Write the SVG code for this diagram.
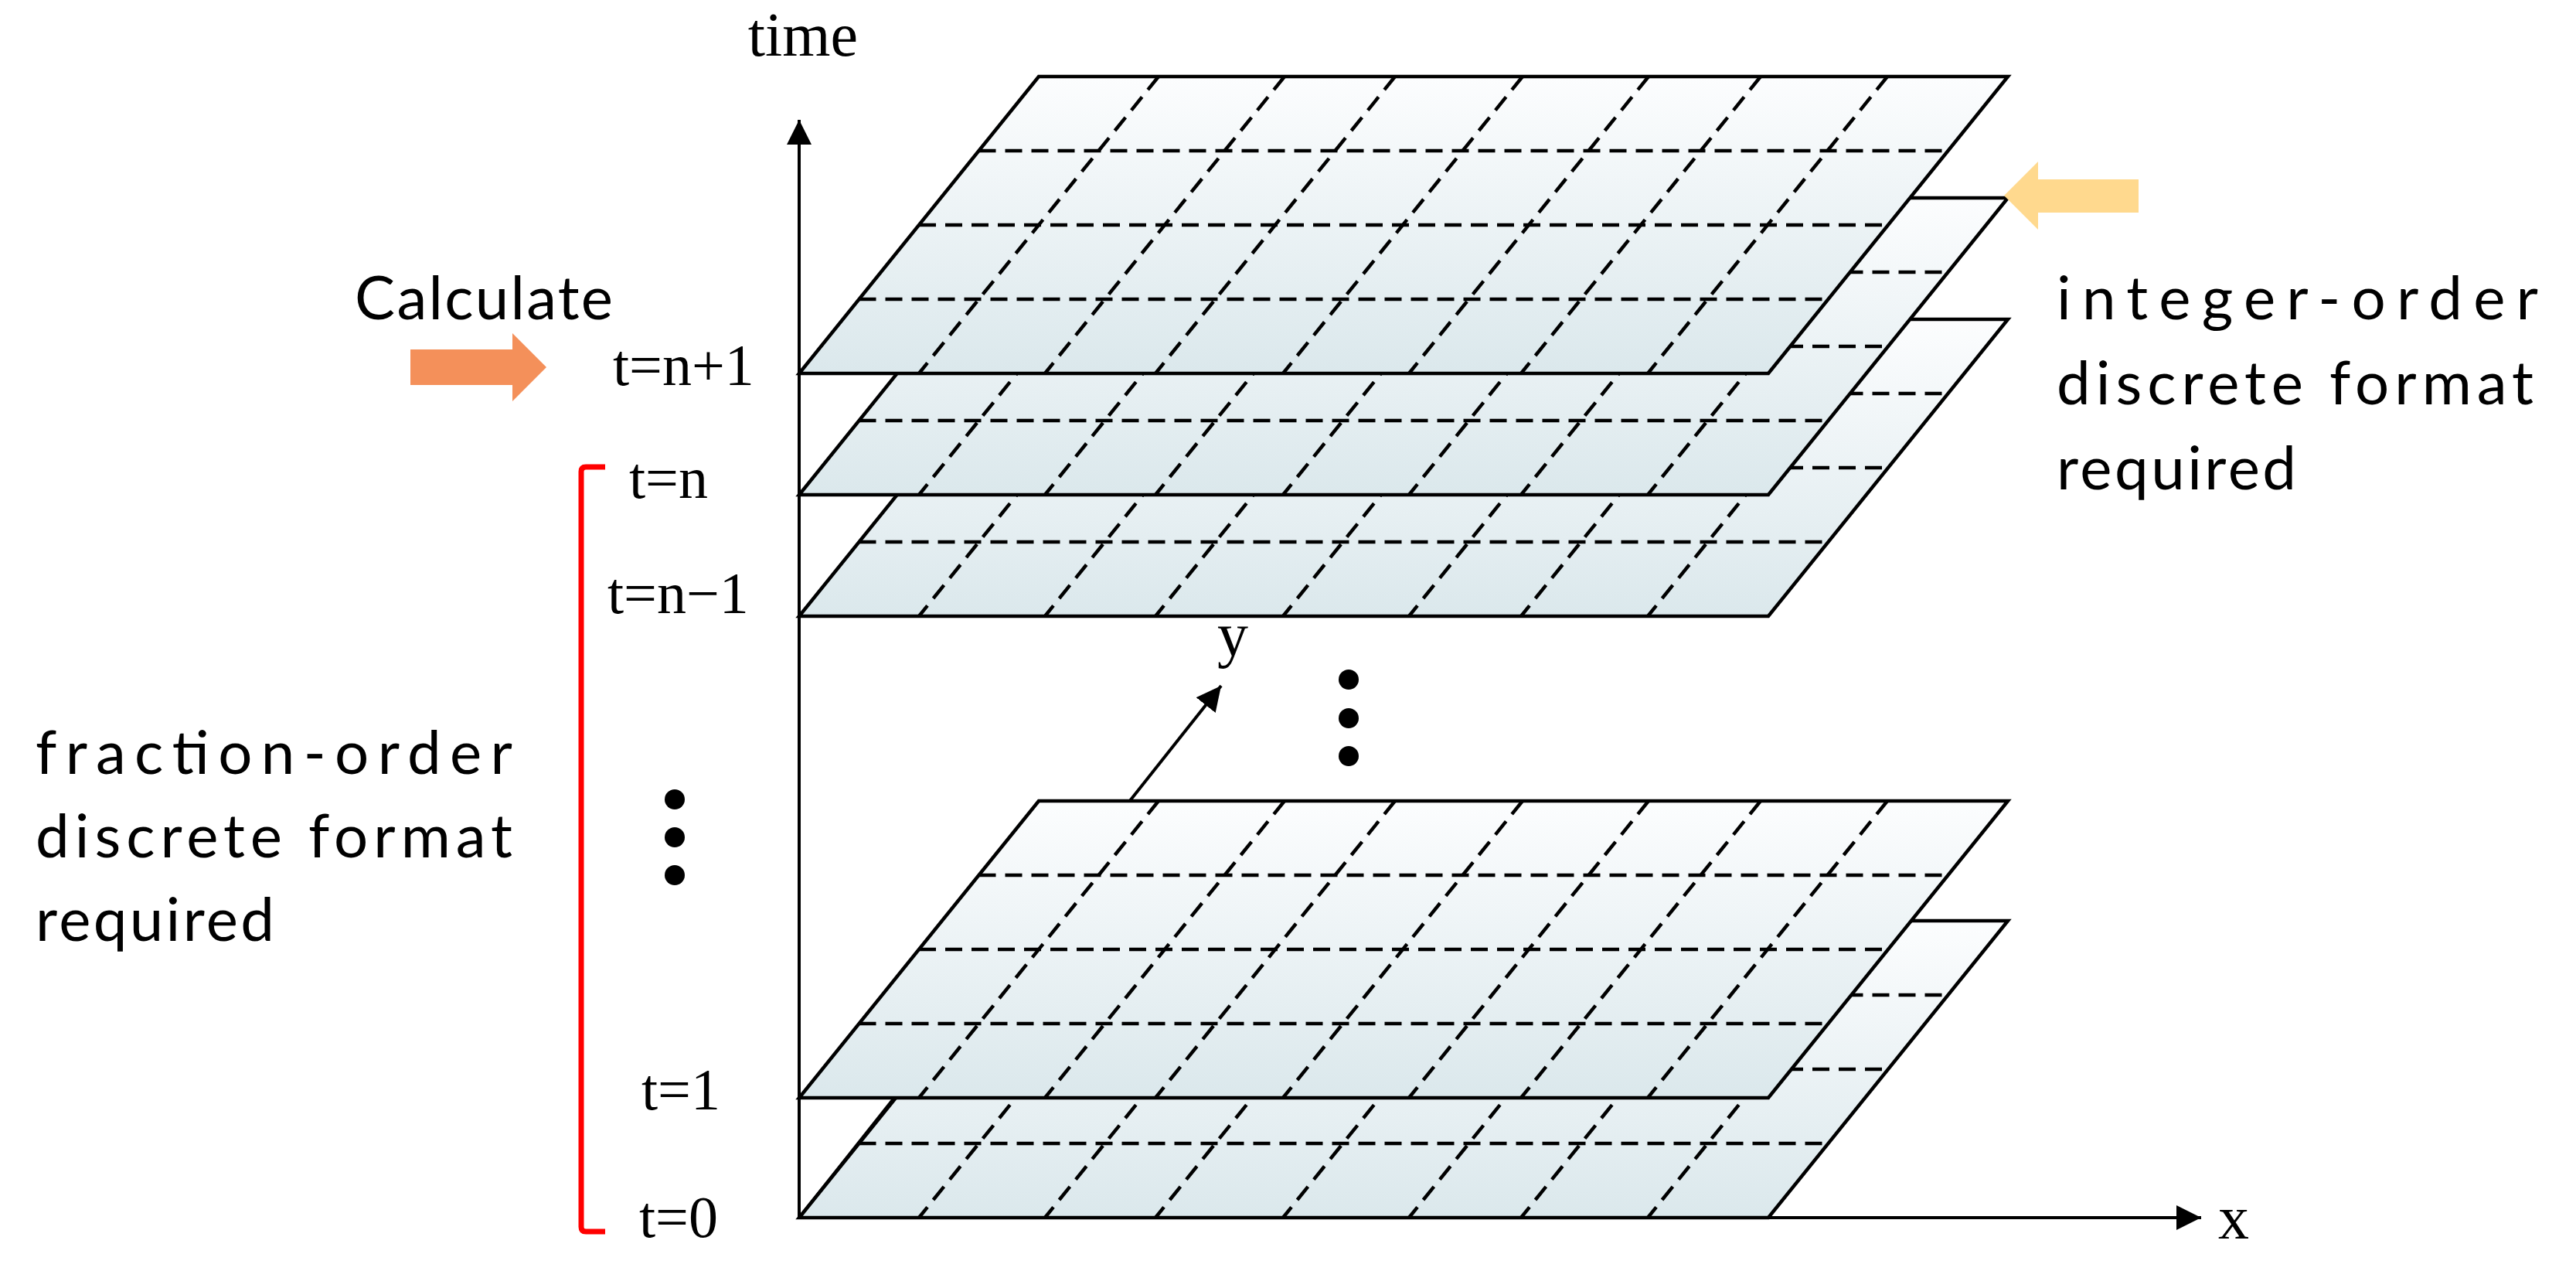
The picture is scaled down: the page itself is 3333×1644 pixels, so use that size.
<svg xmlns="http://www.w3.org/2000/svg" xmlns:xlink="http://www.w3.org/1999/xlink" width="3333" height="1644" viewBox="0 0 3333 1644">
<style>
.bg{fill:#ffffff}
.pfill{fill:url(#pgrad);stroke:none}
.pedge{fill:none;stroke:#000;stroke-width:4.5;stroke-linejoin:miter}
.dash{fill:none;stroke:#000;stroke-width:4.5;stroke-dasharray:22 12}
.axis{fill:none;stroke:#000;stroke-width:4}
.tlab{font-family:"Liberation Serif","Times New Roman",serif;font-size:76px;fill:#000}
.axlab{font-family:"Liberation Serif","Times New Roman",serif;font-size:80px;fill:#000}
.note{font-family:Lato,"Open Sans","Liberation Sans",sans-serif;font-size:78px;fill:#000}
.dot{fill:#000}
</style>
<defs>
<linearGradient id="pgrad" x1="0" y1="0" x2="0" y2="1">
<stop offset="0" stop-color="#fcfdfe"/>
<stop offset="1" stop-color="#dbe8ec"/>
</linearGradient>
<marker id="ah" markerUnits="userSpaceOnUse" markerWidth="32" markerHeight="32" viewBox="0 0 30 30" refX="30" refY="15" orient="auto">
<path d="M0,0 L30,15 L0,30 Z" fill="#000"/>
</marker>
<g id="plane">
<polygon class="pfill" points="310,0 1564,0 1254,384 0,384"/>
<g class="dash">
<line x1="232.5" y1="96" x2="1486.5" y2="96"/>
<line x1="155" y1="192" x2="1409" y2="192"/>
<line x1="77.5" y1="288" x2="1331.5" y2="288"/>
<line x1="465" y1="0" x2="155" y2="384"/>
<line x1="628" y1="0" x2="318" y2="384"/>
<line x1="771" y1="0" x2="461" y2="384"/>
<line x1="936" y1="0" x2="626" y2="384"/>
<line x1="1099" y1="0" x2="789" y2="384"/>
<line x1="1244" y1="0" x2="934" y2="384"/>
<line x1="1408" y1="0" x2="1098" y2="384"/>
</g>
<polygon class="pedge" points="310,0 1564,0 1254,384 0,384"/>
</g>
</defs>
<rect class="bg" x="0" y="0" width="3333" height="1644"/>

<g id="plane-t0" transform="translate(1034,1191)"><use xlink:href="#plane" href="#plane"/></g>

<g id="connectors">
<line class="axis" x1="1034" y1="1577" x2="1034" y2="155" marker-end="url(#ah)"/>
<line class="axis" x1="1032" y1="1575" x2="2848" y2="1575" marker-end="url(#ah)"/>
<line class="axis" x1="1034" y1="1575" x2="1580" y2="887" stroke-width="5.5" marker-end="url(#ah)"/>
</g>

<g id="plane-t1" transform="translate(1034,1036)"><use xlink:href="#plane" href="#plane"/></g>
<g id="plane-tn-1" transform="translate(1034,413)"><use xlink:href="#plane" href="#plane"/></g>
<g id="plane-tn" transform="translate(1034,256)"><use xlink:href="#plane" href="#plane"/></g>
<g id="plane-tn+1" transform="translate(1034,99)"><use xlink:href="#plane" href="#plane"/></g>

<g id="label-time"><text class="axlab" x="1110" y="72" text-anchor="end" font-size="86">time</text></g>
<g id="label-x"><text class="axlab" x="2870" y="1602">x</text></g>
<g id="label-y"><text class="axlab" x="1575" y="848">y</text></g>

<g id="label-tn1"><text class="tlab" x="793" y="498">t=n+1</text></g>
<g id="label-tn"><text class="tlab" x="814" y="644">t=n</text></g>
<g id="label-tnm1"><text class="tlab" x="786" y="793">t=n−1</text></g>
<g id="label-t1"><text class="tlab" x="830" y="1435">t=1</text></g>
<g id="label-t0"><text class="tlab" x="827" y="1600">t=0</text></g>

<g id="dots-left">
<circle class="dot" cx="873" cy="1034" r="13"/>
<circle class="dot" cx="873" cy="1083" r="13"/>
<circle class="dot" cx="873" cy="1132" r="13"/>
</g>
<g id="dots-mid">
<circle class="dot" cx="1745" cy="879" r="13"/>
<circle class="dot" cx="1745" cy="929" r="13"/>
<circle class="dot" cx="1745" cy="978" r="13"/>
</g>

<g id="calculate">
<polygon points="531,452 663,452 663,431 707,475 663,519 663,498 531,498" fill="#f4905a"/>
<text class="note" x="459" y="413" font-size="76" textLength="334" lengthAdjust="spacing">Calculate</text>
</g>

<g id="integer-order">
<polygon points="2767,232 2637,232 2637,209 2593,253 2637,297 2637,275 2767,275" fill="#ffd98e"/>
<text class="note" x="2661" y="413" textLength="623" lengthAdjust="spacing">integer-order</text>
<text class="note" x="2661" y="523" textLength="617" lengthAdjust="spacing">discrete format</text>
<text class="note" x="2661" y="633" textLength="310" lengthAdjust="spacing">required</text>
</g>

<g id="fraction-order">
<path d="M783,604 L758,604 Q752,604 752,610 L752,1587 Q752,1593 758,1593 L783,1593" fill="none" stroke="#ff0000" stroke-width="7"/>
<text class="note" x="46" y="1001" textLength="617" lengthAdjust="spacing">fraction-order</text>
<text class="note" x="46" y="1109" textLength="617" lengthAdjust="spacing">discrete format</text>
<text class="note" x="46" y="1217" textLength="309" lengthAdjust="spacing">required</text>
</g>
</svg>
